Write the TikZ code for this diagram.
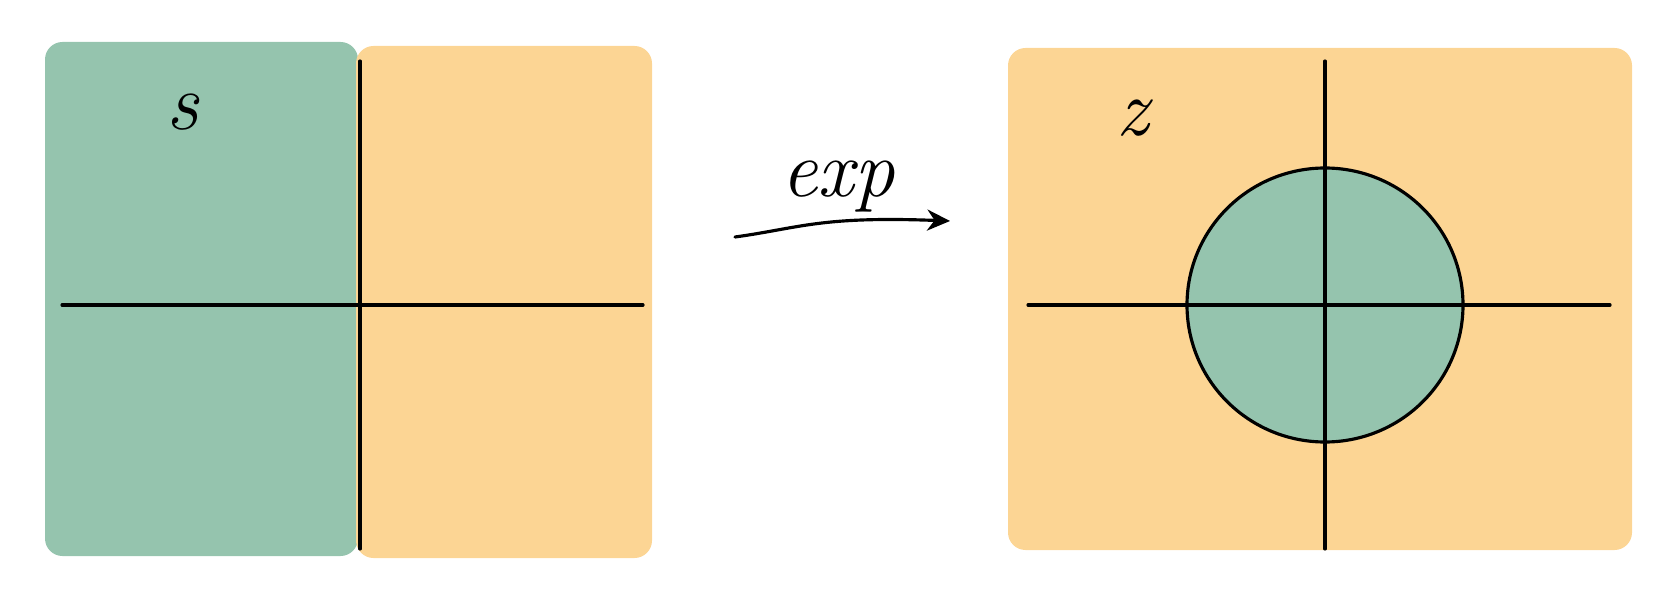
\documentclass[tikz,border=0pt]{standalone}
\usepackage{tikz}
\usetikzlibrary{arrows.meta}
\definecolor{planegreen}{HTML}{95C4AE}
\definecolor{planeorange}{HTML}{FCD594}

\begin{document}
\begin{tikzpicture}[x=0.02cm, y=-0.02cm, line width=1.8pt,
			ax/.style={black, line cap=round},
			lbl/.style={font=\fontsize{46}{54}\selectfont\itshape, inner sep=0pt}]
		\useasboundingbox (0,0) rectangle (1669,594);

		% s-plane
		\begin{scope}
			\fill[planegreen, rounded corners=0.35cm] (45,42) rectangle (358,556);
			\fill[planeorange, rounded corners=0.35cm] (356,46) rectangle (652,558);
			\coordinate (s-top) at (360,61);
			\coordinate (s-bot) at (360,549);
			\coordinate (s-left) at (62,305);
			\coordinate (s-right) at (643,305);
			\draw[ax] (s-top) -- (s-bot);
			\draw[ax] (s-left) -- (s-right);
			\node[lbl, anchor=base] (s) at (183,130) {s};
		\end{scope}

		% map
		\coordinate (m-start) at (735,237);
		\coordinate (m-end) at (950,221);
		\draw[line cap=round, -{Stealth[length=13pt, width=12pt]}] (m-start) .. controls (800,228) and (820,216) .. (m-end);
		\node[lbl, anchor=base] (exp) at (838,197) {exp};

		% z-plane
		\begin{scope}
			\fill[planeorange, rounded corners=0.35cm] (1008,48) rectangle (1632,550);
			\coordinate (o) at (1325,305);
			\coordinate (z-top) at (1325,61);
			\coordinate (z-bot) at (1325,549);
			\coordinate (z-left) at (1028,305);
			\coordinate (z-right) at (1610,305);
			\draw[ax, fill=planegreen] (o) ellipse [x radius=138, y radius=137];
			\draw[ax] (z-top) -- (z-bot);
			\draw[ax] (z-left) -- (z-right);
			\node[lbl, anchor=base] (z) at (1133,136) {z};
		\end{scope}
	\end{tikzpicture}
\end{document}
